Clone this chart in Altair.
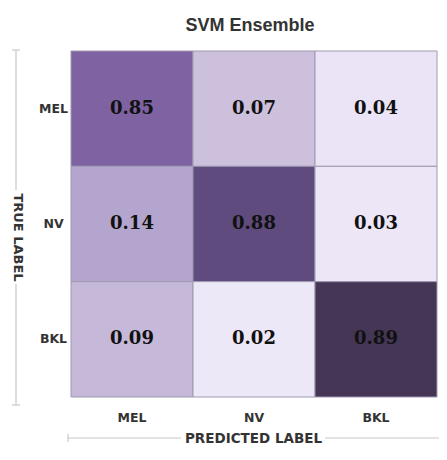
import altair as alt
import pandas as pd

classes = ["MEL", "NV", "BKL"]
true_labels = ["MEL", "MEL", "MEL", "NV", "NV", "NV", "BKL", "BKL", "BKL"]
pred_labels = ["MEL", "NV", "BKL", "MEL", "NV", "BKL", "MEL", "NV", "BKL"]
values = [0.85, 0.07, 0.04, 0.14, 0.88, 0.03, 0.09, 0.02, 0.89]

color_domain = [0.02, 0.04, 0.07, 0.14, 0.85, 0.88, 0.89]
color_range = ["#ede8f8", "#ebe4f6", "#cdc0dc", "#b3a5cd", "#7e62a1", "#5f4b7d", "#453656"]

df = pd.DataFrame({"true": true_labels, "pred": pred_labels, "value": values})

W, H = 366, 346
LABEL_FONT = "DejaVu Sans"
AXIS_COL = "#333333"
LINE_COL = "#c8c8c8"
XT_OFF = 41
XT = H + XT_OFF  # y of the predicted-label line
XC = 182         # x centre of predicted-label title
YL = -55         # x of the true-label line

x_enc = alt.X(
    "pred:N", sort=classes,
    axis=alt.Axis(
        title="PREDICTED LABEL", orient="bottom", ticks=False, domain=False,
        labelAngle=0, labelPadding=14, labelFont=LABEL_FONT, labelFontSize=12.5,
        labelFontWeight="bold", labelColor=AXIS_COL,
        titleFont=LABEL_FONT, titleFontSize=13.5, titleFontWeight="bold",
        titleColor=AXIS_COL, titleX=XC, titleY=XT_OFF, titleAlign="center",
        titleBaseline="middle", titleAnchor="start",
    ),
)
y_enc = alt.Y(
    "true:N", sort=classes,
    axis=alt.Axis(
        title="TRUE LABEL", orient="left", ticks=False, domain=False,
        labelPadding=18, labelAlign="center", labelFont=LABEL_FONT,
        labelFontSize=12.5, labelFontWeight="bold", labelColor=AXIS_COL,
        titleFont=LABEL_FONT, titleFontSize=13, titleFontWeight="bold",
        titleColor=AXIS_COL, titleX=YL + 1, titleY=186, titleAngle=90,
        titleAlign="center", titleBaseline="middle", titleAnchor="start",
    ),
)

base = alt.Chart(df)

rects = base.mark_rect(stroke="#9e99b0", strokeWidth=1).encode(
    x=x_enc,
    y=y_enc,
    color=alt.Color(
        "value:Q",
        scale=alt.Scale(domain=color_domain, range=color_range, interpolate="rgb"),
        legend=None,
    ),
)

texts = base.mark_text(
    font="DejaVu Serif", fontSize=18, fontWeight="bold", color="#111111"
).encode(
    x=alt.X("pred:N", sort=classes),
    y=alt.Y("true:N", sort=classes),
    text=alt.Text("value:Q", format=".2f"),
)

# decorative lines around axis titles
line_df = pd.DataFrame({"k": [0]})
def rule(x, x2, y, y2):
    return alt.Chart(line_df).mark_rule(color=LINE_COL, strokeWidth=1.2).encode(
        x=alt.value(x), x2=alt.value(x2), y=alt.value(y), y2=alt.value(y2)
    )

lines = [
    rule(YL, YL, -1, 139),
    rule(YL, YL, 233, H + 8),
    rule(YL - 4, YL + 4, -1, -1),
    rule(YL - 4, YL + 4, H + 8, H + 8),
    rule(-3, XC - 72, XT, XT),
    rule(XC + 72, W + 2, XT, XT),
    rule(-3, -3, XT - 4, XT + 4),
]

chart = alt.layer(rects, texts, *lines).properties(
    width=W, height=H,
    title=alt.TitleParams(
        "SVM Ensemble", font="Liberation Sans", fontSize=18, fontWeight="bold",
        color="#333333", anchor="middle", dx=-4, offset=0, baseline="alphabetic",
    ),
    autosize=alt.AutoSizeParams(type="none"),
    padding={"left": 63, "top": 43, "right": 2, "bottom": 49},
).configure_view(stroke=None)

chart.save("out.html", embed_options={"renderer": "svg", "actions": False})
